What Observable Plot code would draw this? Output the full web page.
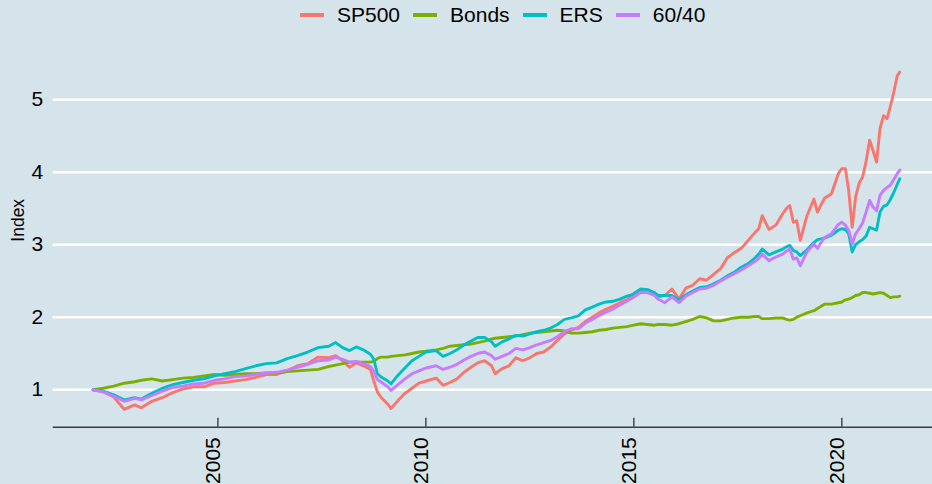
<!DOCTYPE html>
<html><head><meta charset="utf-8">
<script src="https://cdn.jsdelivr.net/npm/d3@7"></script>
<script src="https://cdn.jsdelivr.net/npm/@observablehq/plot@0.6"></script>
<style>
html,body{margin:0;padding:0;background:#d5e4eb;}
body{width:932px;height:484px;overflow:hidden;font-family:"Liberation Sans",Arial,sans-serif;}
#legend{height:30px;display:flex;align-items:center;padding-left:300px;box-sizing:border-box;}
#legend .key{width:24px;height:3.5px;margin-right:13px;}
#legend .lab{font-size:21px;color:#000;margin-right:13px;line-height:26px;}
#chart svg{display:block;}
</style></head><body>
<div id="legend"></div>
<div id="chart"></div>
<script>
const seriesNames = ["SP500", "Bonds", "ERS", "60/40"];
const seriesColors = ["#F8766D", "#7CAE00", "#00BFC4", "#C77CFF"];
const yTicks = [1, 2, 3, 4, 5];
const xTickYears = ["2005", "2010", "2015", "2020"];

const dates = [
"2002-01","2002-04","2002-07","2002-10","2003-01","2003-03","2003-06","2003-09","2003-12","2004-03",
"2004-06","2004-09","2004-12","2005-03","2005-06","2005-09","2005-12","2006-03","2006-06","2006-09",
"2006-12","2007-03","2007-06","2007-09","2007-11","2008-01","2008-03","2008-05","2008-07","2008-09",
"2008-10","2008-11","2008-12","2009-02","2009-03","2009-05","2009-07","2009-09","2009-11","2010-01",
"2010-04","2010-06","2010-08","2010-10","2010-12","2011-02","2011-04","2011-06","2011-08","2011-09",
"2011-11","2012-01","2012-03","2012-05","2012-07","2012-09","2012-11","2013-01","2013-03","2013-05",
"2013-07","2013-09","2013-11","2014-01","2014-03","2014-05","2014-07","2014-09","2014-11","2015-01",
"2015-03","2015-05","2015-07","2015-08","2015-10","2015-12","2016-02","2016-04","2016-06","2016-08",
"2016-10","2016-12","2017-02","2017-04","2017-06","2017-08","2017-10","2017-12","2018-01","2018-02",
"2018-04","2018-06","2018-08","2018-09","2018-10","2018-11","2018-12","2019-01","2019-03","2019-05",
"2019-06","2019-08","2019-10","2019-12","2020-01","2020-02","2020-03","2020-04","2020-05","2020-06",
"2020-07","2020-08","2020-09","2020-10","2020-11","2020-12","2021-01","2021-02","2021-03","2021-04",
"2021-05","2021-05-24"];

const sp500 = [
1.00,0.97,0.90,0.73,0.79,0.75,0.84,0.89,0.96,1.01,
1.04,1.04,1.09,1.10,1.12,1.14,1.17,1.21,1.21,1.26,
1.33,1.36,1.45,1.44,1.47,1.40,1.31,1.37,1.33,1.28,
1.12,0.97,0.90,0.80,0.74,0.85,0.95,1.02,1.09,1.12,
1.16,1.06,1.10,1.15,1.24,1.31,1.37,1.40,1.33,1.22,
1.29,1.33,1.44,1.40,1.44,1.50,1.52,1.59,1.68,1.77,
1.82,1.86,1.94,2.00,2.06,2.11,2.15,2.20,2.24,2.33,
2.38,2.38,2.33,2.28,2.30,2.39,2.25,2.40,2.44,2.53,
2.51,2.59,2.67,2.82,2.89,2.95,3.06,3.17,3.22,3.40,
3.21,3.27,3.43,3.50,3.54,3.31,3.33,3.06,3.40,3.63,
3.45,3.64,3.70,3.98,4.05,4.05,3.75,3.24,3.66,3.85,
3.93,4.15,4.44,4.30,4.14,4.60,4.78,4.74,4.90,5.10,
5.33,5.38];

const bonds = [
1.00,1.02,1.05,1.09,1.11,1.13,1.15,1.12,1.14,1.16,
1.17,1.19,1.21,1.20,1.21,1.22,1.22,1.23,1.23,1.25,
1.26,1.27,1.28,1.32,1.34,1.36,1.38,1.38,1.38,1.38,
1.39,1.43,1.45,1.45,1.46,1.47,1.48,1.50,1.52,1.53,
1.55,1.57,1.60,1.61,1.62,1.63,1.65,1.67,1.70,1.71,
1.72,1.73,1.74,1.76,1.78,1.79,1.80,1.81,1.82,1.81,
1.78,1.78,1.79,1.80,1.82,1.83,1.85,1.86,1.87,1.89,
1.91,1.90,1.89,1.90,1.90,1.89,1.91,1.94,1.97,2.01,
1.99,1.95,1.95,1.97,1.99,2.00,2.00,2.01,2.01,1.98,
1.98,1.99,1.99,1.97,1.96,1.97,2.00,2.02,2.06,2.09,
2.12,2.18,2.18,2.20,2.21,2.24,2.25,2.27,2.30,2.31,
2.34,2.34,2.33,2.32,2.33,2.34,2.33,2.30,2.27,2.28,
2.28,2.29];

const ers = [
1.00,0.98,0.93,0.86,0.89,0.87,0.95,1.02,1.07,1.10,
1.13,1.15,1.19,1.22,1.25,1.29,1.33,1.36,1.37,1.43,
1.47,1.52,1.58,1.60,1.65,1.58,1.54,1.59,1.55,1.49,
1.42,1.22,1.18,1.12,1.08,1.20,1.30,1.40,1.46,1.52,
1.54,1.46,1.50,1.55,1.62,1.67,1.72,1.72,1.66,1.60,
1.66,1.70,1.75,1.74,1.77,1.80,1.82,1.85,1.90,1.97,
1.99,2.02,2.10,2.14,2.18,2.21,2.22,2.25,2.29,2.32,
2.39,2.38,2.34,2.30,2.30,2.30,2.24,2.31,2.36,2.41,
2.42,2.46,2.51,2.57,2.62,2.69,2.74,2.82,2.87,2.94,
2.86,2.90,2.94,2.97,2.99,2.92,2.90,2.85,2.93,3.03,
3.07,3.09,3.13,3.20,3.22,3.21,3.15,2.90,3.00,3.04,
3.07,3.12,3.24,3.22,3.20,3.45,3.53,3.55,3.62,3.72,
3.83,3.91];

const sixty40 = [
1.00,0.97,0.91,0.84,0.88,0.86,0.92,0.98,1.03,1.05,
1.08,1.09,1.13,1.15,1.18,1.19,1.21,1.23,1.24,1.27,
1.31,1.35,1.40,1.41,1.45,1.42,1.38,1.39,1.36,1.32,
1.25,1.14,1.11,1.04,0.99,1.07,1.15,1.22,1.26,1.30,
1.33,1.28,1.31,1.35,1.41,1.46,1.50,1.52,1.47,1.42,
1.46,1.50,1.57,1.55,1.58,1.62,1.65,1.68,1.73,1.80,
1.84,1.84,1.92,1.97,2.02,2.07,2.11,2.17,2.22,2.28,
2.34,2.34,2.30,2.25,2.20,2.28,2.20,2.29,2.34,2.39,
2.40,2.44,2.50,2.55,2.60,2.65,2.71,2.77,2.81,2.87,
2.78,2.83,2.87,2.91,2.94,2.80,2.82,2.71,2.90,3.01,
2.95,3.10,3.15,3.28,3.31,3.27,3.20,3.01,3.15,3.22,
3.30,3.45,3.61,3.52,3.47,3.68,3.75,3.79,3.82,3.90,
3.98,4.03];

const valuesBySeries = [sp500, bonds, ers, sixty40];
valuesBySeries.forEach((v, i) => {
  if (v.length !== dates.length) throw new Error(seriesNames[i] + " length " + v.length + " vs " + dates.length);
});

const data = [];
seriesNames.forEach((s, i) => {
  dates.forEach((d, j) => data.push({date: new Date(d), series: s, value: valuesBySeries[i][j]}));
});

// legend
const legend = document.getElementById("legend");
seriesNames.forEach((s, i) => {
  const k = document.createElement("span");
  k.className = "key"; k.style.background = seriesColors[i];
  const t = document.createElement("span");
  t.className = "lab"; t.textContent = s;
  legend.appendChild(k); legend.appendChild(t);
});

const W = 932, H = 454;
const mTop = 25.7, mBottom = 57.3, mLeft = 52.7, mRight = 0;
const yDomain = [0.483, 5.6];
const xDomain = [new Date(Date.UTC(2001, 0, 16)), new Date(Date.UTC(2022, 2, 7))];
const xTicks = xTickYears.map(y => new Date(y + "-01-01"));
const axisColor = "#3c3c3c";
const font = '"Liberation Sans", Arial, sans-serif';

const chart = Plot.plot({
  width: W, height: H,
  marginLeft: mLeft, marginRight: mRight, marginTop: mTop, marginBottom: mBottom,
  style: {background: "transparent", fontFamily: font, color: "#000", overflow: "visible"},
  x: {type: "utc", domain: xDomain},
  y: {domain: yDomain},
  color: {domain: seriesNames, range: seriesColors},
  marks: [
    Plot.gridY(yTicks, {stroke: "#ffffff", strokeOpacity: 1, strokeWidth: 2.5}),
    Plot.ruleY([yDomain[0]], {stroke: axisColor, strokeWidth: 1.4}),
    Plot.tickX(xTicks, {x: d => d, stroke: axisColor, strokeWidth: 1.4, insetTop: H - mTop - mBottom - 9}),
    Plot.axisY(yTicks, {tickSize: 0, tickPadding: 10, fontSize: 21, fill: "#000", label: null,
      tickFormat: d3.format("d")}),
    Plot.axisX(xTicks, {tickSize: 0, tickPadding: 10, tickRotate: -90, fontSize: 21, fill: "#000",
      tickFormat: d3.utcFormat("%Y"), label: null, dx: -5}),
    Plot.text(["Index"], {text: d => d, frameAnchor: "left", rotate: -90, dx: -35, fontSize: 17.5, fill: "#000"}),
    Plot.line(data, {x: "date", y: "value", stroke: "series", z: "series", strokeWidth: 2.9,
      strokeLinejoin: "round", strokeLinecap: "round"})
  ]
});
document.getElementById("chart").appendChild(chart);
</script>
</body></html>
